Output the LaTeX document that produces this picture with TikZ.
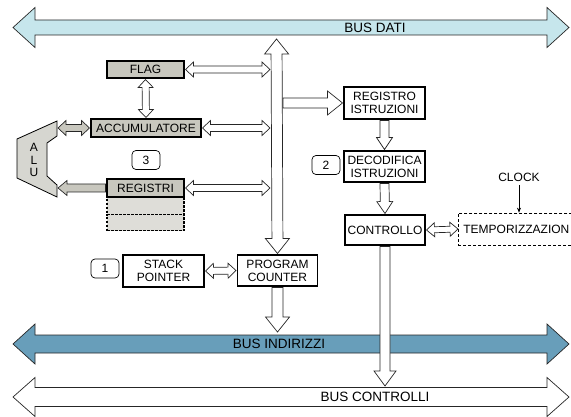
\documentclass[tikz,border=0pt]{standalone}
\usepackage{fontspec}
\setmainfont{Liberation Sans}
\usetikzlibrary{arrows.meta,positioning,calc}
\definecolor{datiblue}{RGB}{198,230,236}
\definecolor{indblue}{RGB}{104,158,186}
\definecolor{reggray}{RGB}{200,199,190}
\definecolor{alugray}{RGB}{214,214,208}

\newcommand{\ap}[3]{({\x#1+(#2)*\n2-(#3)*\n3},{\y#1+(#2)*\n3+(#3)*\n2})}
\newcommand{\dblarrow}[6][]{%
  \draw[fatarr,#1] let \p1=(#2), \p2=(#3), \n1={veclen(\x2-\x1,\y2-\y1)},
    \n2={(\x2-\x1)/\n1}, \n3={(\y2-\y1)/\n1} in
    (\x1,\y1) -- \ap{1}{#6}{#5} -- \ap{1}{#6}{#4} -- \ap{2}{-#6}{#4} -- \ap{2}{-#6}{#5}
    -- (\x2,\y2) -- \ap{2}{-#6}{-#5} -- \ap{2}{-#6}{-#4} -- \ap{1}{#6}{-#4} -- \ap{1}{#6}{-#5} -- cycle;}
\newcommand{\onearrow}[6][]{%
  \draw[fatarr,#1] let \p1=(#2), \p2=(#3), \n1={veclen(\x2-\x1,\y2-\y1)},
    \n2={(\x2-\x1)/\n1}, \n3={(\y2-\y1)/\n1} in
    \ap{1}{0}{#4} -- \ap{2}{-#6}{#4} -- \ap{2}{-#6}{#5} -- (\x2,\y2)
    -- \ap{2}{-#6}{-#5} -- \ap{2}{-#6}{-#4} -- \ap{1}{0}{-#4} -- cycle;}

\begin{document}
\begin{tikzpicture}[x=1pt,y=-1pt,
  fatarr/.style={draw=black!85,line width=0.7pt,fill=white,line join=miter},
  box/.style={draw,line width=1.4pt,align=center,inner sep=1pt,outer sep=1.5pt,font=\fontsize{12}{13}\selectfont},
  regbox/.style={box,fill=reggray},
  cellbox/.style={draw,line width=1.1pt,dash pattern=on 2.5pt off 1.5pt,fill=reggray!60,minimum width=77},
  numbox/.style={draw,line width=0.7pt,rounded corners=4pt,minimum width=28,minimum height=19,inner sep=0pt,outer sep=1.5pt,font=\fontsize{12}{13}\selectfont},
  buslabel/.style={font=\fontsize{13.5}{14}\selectfont},
  lbl/.style={font=\fontsize{12}{12.5}\selectfont,align=center}
]
\useasboundingbox (0,0) rectangle (571,417);

\coordinate (dl) at (13,27.5);
\coordinate (dr) at (569,27.5);
\coordinate (il) at (13,344);
\coordinate (ir) at (569,344);
\coordinate (cl) at (13,397);
\coordinate (cr) at (569,397);
\coordinate (vtop) at (276.5,39);
\coordinate (vbl) at (270,0);
\coordinate (vbr) at (283,0);
\coordinate (alur) at (58,0);
\coordinate (ibus) at (0,332);
\coordinate (cbus) at (0,386);

\dblarrow[fill=datiblue]{dl}{dr}{7.5}{20}{22}
\dblarrow[fill=indblue]{il}{ir}{9}{20}{22}
\dblarrow{cl}{cr}{9.5}{19.5}{22}
\node[buslabel] (dati) at (375,27.5) {BUS DATI};
\node[buslabel] (indir) at (279,344) {BUS INDIRIZZI};
\node[buslabel] (contr) at (375,397) {BUS CONTROLLI};

\draw[fill=alugray,line width=0.8pt] (57,121) -- (57,136) -- (47,143) -- (47,176) -- (57,185)
  -- (57,197) -- (17,178) -- (17,139) -- cycle;
\node[lbl] (alu) at (34,160) {A\\L\\U};

\node[cellbox,minimum height=17,anchor=north] (reg2) at (145.5,197) {};
\node[cellbox,minimum height=16,anchor=north] (reg3) at (145.5,214) {};
\node[regbox,minimum width=77,minimum height=17] (flag) at (145.5,69.5) {FLAG};
\node[regbox,minimum width=110,minimum height=18] (acc) at (146,128) {ACCUMULATORE};
\node[regbox,minimum width=77,minimum height=18] (reg) at (145.5,188) {REGISTRI};
\node[numbox] (num3) at (146,160) {3};

\node[box,minimum width=81,minimum height=32] (istr) at (384.5,103) {REGISTRO\\ISTRUZIONI};
\node[box,minimum width=81,minimum height=31] (deco) at (384.5,166.5) {DECODIFICA\\ISTRUZIONI};
\node[box,minimum width=80,minimum height=30] (ctrl) at (385,230) {CONTROLLO};
\node[numbox] (num2) at (326,165) {2};
\node[draw,line width=0.7pt,dash pattern=on 3pt off 2pt,anchor=west,inner xsep=5pt,minimum height=32,
  font=\fontsize{12}{13}\selectfont] (temp) at (458,229) {TEMPORIZZAZION};
\node[lbl] (clock) at (519,177) {CLOCK};

\node[box,minimum width=81,minimum height=32] (sp) at (163.5,271) {STACK\\POINTER};
\node[box,minimum width=80,minimum height=31] (pc) at (277.5,270.5) {PROGRAM\\COUNTER};
\node[numbox] (num1) at (105,268.5) {1};

\dblarrow{vtop}{pc.north}{5.5}{12}{15}
\dblarrow{flag.east}{flag.east -| vbl}{3.5}{7.5}{8}
\dblarrow{acc.east}{acc.east -| vbl}{3.5}{7.5}{8}
\dblarrow{reg.east}{reg.east -| vbl}{3.5}{7.5}{8}
\dblarrow{flag.south}{acc.north}{3.5}{7.5}{8}
\dblarrow[fill=reggray]{acc.west -| alur}{acc.west}{3.5}{7.5}{8}
\onearrow[fill=reggray]{reg.west}{reg.west -| alur}{4}{7.5}{9}
\onearrow{istr.west -| vbr}{istr.west}{5}{12}{15}
\onearrow{istr.south}{deco.north}{4.5}{8}{12}
\onearrow{deco.south}{ctrl.north}{4.5}{8}{12}
\dblarrow{ctrl.east}{temp.west}{3}{7}{8}
\draw[-{Stealth[length=5pt,width=4pt]},line width=0.6pt] (clock.south) -- (clock.south |- temp.north);
\dblarrow{sp.east}{pc.west}{3.5}{7.5}{8}
\onearrow{pc.south}{pc.south |- ibus}{5.5}{12}{15}
\onearrow{ctrl.south}{ctrl.south |- cbus}{5}{11}{15}
\end{tikzpicture}
\end{document}
